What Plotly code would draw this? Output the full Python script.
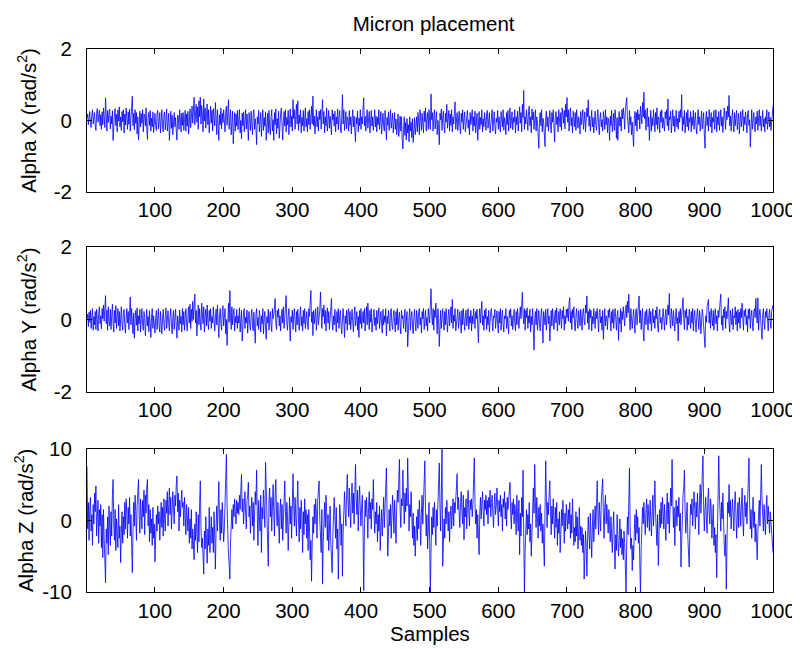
import plotly.graph_objects as go

# ---------------- data ----------------
x_tick_vals = [100, 200, 300, 400, 500, 600, 700, 800, 900, 1000]
xy_tick_vals = [-2, 0, 2]
xy_tick_text = ["-2", "0", "2"]
z_tick_vals = [-10, 0, 10]
z_tick_text = ["-10", "0", "10"]
y_titles = ["Alpha X (rad/s<sup>2</sup>)", "Alpha Y (rad/s<sup>2</sup>)", "Alpha Z (rad/s<sup>2</sup>)"]
x_title = "Samples"
chart_title = "Micron placement"

alpha_x = [
.05,.18,-.12,.12,.25,-.08,-.2,.15,.3,-.1,.02,.22,-.14,-.28,.2,.33,-.05,.18,.28,-.15,
.16,-.25,.24,-.12,.35,.1,-.2,.63,.05,-.3,.28,-.06,.19,.31,-.24,.12,-.1,.27,-.56,.08,
.21,.33,-.15,.17,-.32,.29,-.02,.38,-.18,.1,-.28,.25,-.04,.3,-.35,.18,-.13,.35,.01,-.25,
.24,-.11,.32,-.3,.06,.28,.68,-.15,.2,-.26,.3,-.08,.22,-.38,.1,-.54,.05,.26,-.18,.19,
-.08,.3,-.32,.18,.15,-.16,.35,-.22,-.53,.12,.22,-.14,.28,-.3,.06,-.18,.24,-.34,.1,.2,
-.15,-.28,.18,.28,-.24,.02,.22,-.35,-.02,.3,-.18,-.32,.16,.24,-.26,.1,.32,-.3,-.05,.2,
-.56,.02,.26,-.22,.15,-.4,-.02,.22,-.18,.08,-.3,-.55,.15,.1,-.25,.3,.04,-.32,.2,-.14,
.22,-.28,.02,.28,-.3,.18,-.16,.25,-.38,.1,.32,-.2,.1,.4,-.08,.5,.65,-.12,.3,.45,
-.05,.38,-.25,.55,.1,.65,-.1,.42,.18,-.32,.6,-.02,.35,-.22,.15,.46,-.12,.3,-.35,.12,
.4,-.08,.28,-.3,.33,.08,-.15,.5,.12,-.4,.3,-.1,-.56,.16,-.12,.35,-.24,.2,-.06,.3,
-.1,-.32,.24,.4,-.14,.1,.58,-.25,.05,.3,-.4,.02,.26,-.65,-.12,.22,-.3,.18,-.16,.28,
-.26,.06,.3,-.35,.0,-.52,.2,-.15,.24,-.32,.04,.3,-.24,.18,-.12,-.56,.22,-.1,-.28,.26,
.02,-.4,.18,.3,-.25,.05,-.18,-.68,.1,-.1,.28,-.32,-.04,.22,-.45,.04,.3,-.28,.08,-.16,
.24,-.56,-.1,.2,-.35,.28,-.15,-.4,.08,.3,-.3,.02,-.56,.22,-.12,.32,-.38,.05,-.22,.26,
-.5,.02,.2,.35,-.28,-.55,-.05,.25,-.16,.3,-.32,.08,-.12,.28,-.4,.04,.32,-.18,.12,-.3,
.58,.05,.3,-.25,.1,.45,-.1,.55,-.28,.15,-.08,.3,-.35,.08,-.15,.28,-.3,.1,.35,-.18,
.05,-.32,.25,-.12,.3,-.25,.08,.4,-.1,.68,-.15,.12,-.38,.04,.3,-.18,.1,-.3,.26,.02,
.3,-.24,.08,.58,-.1,.25,-.35,.1,-.15,.35,-.3,.06,.28,-.22,.12,-.12,-.4,.3,.02,.18,
-.16,.26,-.32,.1,-.1,.32,-.26,.08,.28,-.18,-.35,.12,.72,-.1,.3,-.28,.05,.25,-.24,.1,
.02,-.3,.28,-.14,.1,-.38,.04,.3,-.18,.12,-.28,-.6,.08,-.1,.26,-.32,.06,-.15,.3,-.25,
.1,-.1,.35,.63,-.15,.12,-.3,.08,.3,-.22,.04,.25,-.35,-.05,.28,-.16,.1,-.28,.06,.3,
-.18,.12,-.32,.08,-.12,.3,-.25,.05,.25,-.38,-.02,.2,-.16,-.3,.28,.02,-.54,.08,-.14,.24,
-.28,.06,.3,-.22,.02,.2,-.35,-.02,.22,-.25,.04,-.4,-.05,.18,-.45,-.05,.12,-.3,.1,-.5,
-.8,-.25,.1,-.42,-.06,-.55,.05,-.35,-.12,-.6,.1,-.3,-.05,-.48,.05,-.62,-.18,.08,-.4,-.1,
.1,-.32,.22,-.05,-.4,.3,-.02,-.28,.2,-.12,-.35,.26,-.04,.35,-.3,.05,.22,-.25,.3,-.02,
-.25,.74,.02,.22,-.3,.08,.3,-.24,.05,.25,-.4,.0,-.12,-.68,.2,.02,.32,-.28,.06,.26,
-.16,-.35,.2,-.05,.45,-.22,.04,.28,-.3,.18,-.14,.3,-.32,.1,-.1,.35,.52,-.25,.05,.22,
-.28,.02,.26,-.18,-.38,.2,-.05,.3,-.25,.05,.24,-.32,-.08,.18,.28,-.22,.02,-.4,.22,-.12,
.06,.3,-.3,.1,-.16,.26,-.35,.02,.2,-.56,-.05,.25,-.25,.08,-.12,.3,-.32,.05,-.18,.22,
.0,-.28,.18,.28,-.22,.04,.22,-.35,-.08,.2,.3,-.3,.02,.24,-.15,-.38,.06,-.05,.28,-.25,
.1,-.1,-.32,.25,.04,-.18,.3,-.28,.08,-.05,-.4,.22,-.12,.28,-.3,.06,.35,-.22,.02,.24,
-.26,.08,-.05,.3,-.35,.1,-.12,.26,-.3,.04,.38,-.08,.22,-.32,.45,.08,.84,-.25,.1,-.1,
.3,.02,-.28,.25,.4,-.15,.1,-.35,.32,.02,.24,-.25,.08,.3,-.3,.1,-.08,-.5,-.78,.05,
.22,-.15,.3,-.32,.06,-.05,-.4,-.73,.08,.26,-.18,.1,-.3,.04,.28,-.1,-.35,.22,-.05,.3,
-.25,-.6,.08,.25,-.12,.1,-.32,.3,.04,-.18,.22,-.28,.35,.06,-.08,.28,-.24,.45,.1,.64,
-.05,.3,-.3,.1,.35,-.15,.08,-.35,.26,.02,-.18,.22,-.28,.3,.06,-.22,.1,-.05,-.38,.25,
-.12,.08,.3,-.25,.04,.24,-.32,-.05,.35,.1,.58,-.16,.12,-.3,.06,.28,-.18,.08,-.35,.02,
.26,-.14,-.28,.1,.3,-.05,-.4,.05,.22,-.18,.02,-.3,.25,.08,-.25,.3,-.12,.1,-.34,.06,
-.05,-.56,.12,-.15,.28,-.32,.06,.2,-.28,.3,.02,-.5,.08,-.56,-.05,.25,-.16,.1,-.3,.3,
.04,.35,.12,-.25,.3,.45,.64,.1,-.1,-.35,.28,-.12,.1,-.4,-.05,-.55,-.73,.05,.25,-.15,
.22,-.3,.3,.02,.18,-.24,.4,.15,-.1,.5,.1,.79,.05,.3,-.28,.12,.35,-.18,.1,-.56,
.02,.28,-.3,.08,-.15,.3,.05,-.32,.22,-.12,.35,-.25,.1,.02,-.35,.25,-.05,.3,-.22,.08,
-.12,-.3,.24,.05,.3,-.15,.6,-.28,.1,.02,.26,-.35,-.05,.3,-.16,.12,-.32,.08,.28,-.18,
.05,-.25,.25,-.05,.3,.08,.72,-.3,.1,-.12,.28,-.35,.02,.22,-.18,.3,-.28,.06,-.05,.25,
-.32,.1,-.14,.28,-.25,.05,.22,-.18,-.38,.02,.3,-.12,.1,-.3,.06,.26,-.24,-.02,.22,-.4,
-.78,.04,.25,-.15,.1,-.3,.3,.02,-.18,.22,-.35,.08,-.05,.28,-.25,.05,.3,-.32,.1,-.12,
.25,-.28,.06,.3,-.16,.1,-.34,.0,.35,.08,-.25,.26,.02,.4,.1,.7,-.15,.12,-.3,.05,
.3,-.1,-.32,.22,-.15,.08,.28,-.26,.04,.2,-.38,.0,.25,-.18,.06,.3,-.3,.1,-.12,.24,
.0,-.35,.2,.28,-.15,.02,-.75,.08,.3,-.25,.05,.22,-.18,-.32,.1,-.1,.26,-.28,.06,.3,
-.15,.12,-.3,.08,.28,-.18,.05,-.32,.1,-.1,.3,-.25,.04,.24,-.18,.08,-.28,.02,.2,.4,
]

alpha_y = [
.02,.15,-.2,.2,-.08,.25,-.25,.12,.3,-.3,.08,-.15,.22,-.28,.28,.0,-.32,.16,.35,-.12,
.1,-.26,.3,.02,.4,-.05,.5,.66,-.12,.25,-.3,.35,-.05,-.18,.28,-.28,.1,.42,-.1,-.35,
.25,-.1,.38,-.25,.08,.3,-.18,.22,-.32,.05,.35,-.12,-.3,.2,.28,-.15,-.38,.06,.3,-.1,
.22,-.28,.05,.62,-.15,.3,-.08,-.4,.18,-.52,.0,.25,-.16,.32,-.32,.1,-.12,.28,-.35,.04,
.3,-.14,-.3,.22,.05,-.45,.0,.28,-.18,.08,-.34,.24,-.12,-.5,.06,.3,-.25,.1,-.1,-.38,
.02,.25,-.28,.18,.3,-.18,-.35,.22,-.1,-.4,.05,.28,-.15,-.3,.1,.32,-.25,.02,.24,-.12,
-.32,.08,.3,-.15,-.4,.05,.25,-.28,-.02,.28,-.18,-.52,.1,-.08,-.3,.26,-.12,.08,-.35,.3,
-.15,.22,-.3,.05,.3,-.12,-.32,.1,.35,-.1,.42,-.25,.28,-.05,.5,.0,.32,.7,-.1,.25,
-.46,.12,.4,-.15,.3,-.08,-.3,.45,.0,-.12,.35,-.35,.08,.28,-.18,.4,-.08,-.28,.25,-.05,
.3,-.25,.08,-.1,.35,.12,-.32,.05,.28,-.15,.4,-.08,-.5,.1,.3,-.12,-.3,.25,.38,-.18,
.05,.3,-.4,.0,-.72,.15,.45,-.08,.8,.1,-.28,.35,-.15,.12,.3,-.32,.08,-.1,.28,-.25,
.1,-.1,.32,-.35,.04,.25,-.6,-.12,.2,.3,-.25,.06,-.1,.26,-.38,.02,.22,-.16,-.3,.08,
.28,-.14,-.32,.2,-.1,-.66,.12,.3,-.18,.05,-.28,.25,.02,-.35,.1,-.12,.3,-.4,.04,.22,
-.22,-.55,.08,-.1,.28,-.3,.05,.22,-.15,-.34,.3,.02,.1,.4,.58,-.1,-.28,.25,.06,.3,
-.18,.1,-.32,.05,.28,-.1,.35,-.25,.08,.24,.66,-.1,-.3,.1,.3,-.15,-.6,.08,-.08,.26,
-.28,.05,.3,-.1,-.35,.22,-.15,.28,.02,-.3,.1,.35,-.18,.08,-.32,.25,-.12,.3,-.25,.05,
.22,-.1,-.28,.3,.08,.42,.8,-.08,.2,-.45,.25,-.12,.05,.3,-.3,.1,.35,-.15,.08,.26,
.76,-.1,-.25,.3,.08,.4,-.12,.25,-.32,.1,.32,-.1,.22,-.28,.05,.3,.58,-.08,-.3,.1,
-.15,.28,.05,-.35,.22,-.1,.3,-.25,.08,.25,-.18,-.4,.02,.3,-.05,-.5,.1,-.12,.26,-.3,
.18,.3,-.15,.22,-.28,.05,.28,-.1,-.35,.1,.35,-.18,.02,.22,-.3,.08,-.5,.25,-.12,.3,
-.25,.05,.22,-.1,.3,-.32,.1,.35,-.15,.45,.08,-.28,.25,-.08,.3,-.35,-.1,.2,.28,-.18,
.05,-.3,.25,-.12,.1,.32,-.25,.04,.22,-.1,-.38,.28,-.15,.1,-.08,.3,-.46,.08,-.12,.25,
.0,-.32,.2,.3,-.15,-.28,.08,.25,-.1,-.35,.22,-.15,.3,-.3,.05,.2,-.18,-.4,.25,.02,
.1,-.25,.05,.28,-.35,.0,.22,-.76,-.15,.08,.3,-.3,.04,.22,-.18,-.4,.06,.28,-.12,-.32,
.25,-.1,-.25,.2,.3,-.15,.05,-.38,.22,.02,.3,-.28,.08,.26,-.18,.05,-.32,.3,.1,-.1,
.4,.85,.1,-.15,.3,-.3,.25,.05,.45,-.12,-.4,.3,.02,-.75,.08,.25,-.25,.05,.3,-.1,
-.3,.22,-.15,.3,.02,-.35,.1,.28,-.18,.08,.35,-.1,.55,-.25,.12,-.05,.3,-.32,-.02,.2,
.28,-.25,.05,.22,-.1,-.38,.25,-.15,.3,.02,-.3,.1,.26,-.18,.05,.3,-.28,.08,-.1,.25,
-.32,.1,-.12,.3,.05,-.25,.22,.02,.28,-.4,-.65,.05,.3,-.1,.4,.5,-.15,.1,-.3,.26,
.02,.3,-.28,.08,-.15,.25,-.35,.0,.22,.3,-.18,-.32,.1,.05,.28,-.25,.02,.24,-.12,-.38,
.22,-.1,.3,-.3,.05,.26,-.15,-.35,.1,.02,.3,-.25,.08,-.1,-.4,.25,.05,.3,-.18,.1,
-.28,.05,.28,-.1,-.32,.22,-.15,.3,.08,-.25,.1,.35,.02,.4,.75,.1,-.12,.3,-.3,.25,
.05,.32,-.25,.1,-.1,.28,-.35,.08,-.15,.3,-.5,-.85,.02,.22,-.15,.3,-.3,.08,.25,-.12,
-.32,.1,.3,-.1,-.65,.22,.05,-.15,.28,-.3,.08,.3,-.12,.1,-.6,.05,.25,-.18,.3,.02,
-.28,.1,.26,-.1,.32,-.32,.05,.22,-.15,.3,.08,-.25,.25,.02,.35,-.3,.1,-.12,.28,.05,
.3,-.05,.45,.6,-.1,.22,-.28,.28,.05,.35,-.15,-.32,.1,.3,-.1,-.25,.25,.08,-.18,.28,
.02,-.3,.2,.3,-.05,-.15,.4,.18,.65,-.1,.22,-.28,.3,.05,.25,-.32,.08,-.12,.3,.1,
-.25,.22,.02,.3,-.15,-.35,.2,.28,-.1,.08,-.3,.25,-.55,.05,.3,-.18,.1,.02,-.28,.26,
.05,.3,-.15,-.32,.22,-.1,.28,-.25,.08,.3,.02,-.3,.1,.25,-.58,.05,-.12,.3,-.35,.22,
.0,.35,.08,-.18,.25,.4,.05,.5,.18,.7,.02,-.3,.3,.1,-.25,.05,.28,-.1,-.38,.22,
.3,-.15,.1,.45,.65,-.1,.25,-.28,.08,.3,-.35,-.6,.02,.22,-.15,.28,.05,-.3,.1,.3,
-.12,.22,-.32,.05,.3,-.1,.1,-.25,.26,.02,.35,-.18,-.35,.1,.28,-.1,.05,-.28,.25,.3,
.02,-.3,.1,.28,-.15,.05,.4,.12,.72,-.1,-.25,.3,.08,-.18,.25,.02,-.32,.1,.3,-.12,
.05,-.6,.22,-.1,.3,-.15,.1,.35,.6,.02,-.28,.25,.05,.3,-.3,.08,-.15,.28,.1,-.25,
.22,-.1,.3,-.32,.08,.25,-.15,-.35,.1,.3,.02,-.28,.25,.05,-.4,-.1,.28,.1,-.15,-.3,
-.78,.1,-.08,.35,.45,.55,-.1,.22,-.25,.3,.05,-.18,.25,-.3,.08,.3,-.12,.1,-.32,.25,
.05,.3,.4,.7,-.15,.1,-.3,.28,.05,.35,-.25,.22,.02,.3,.6,-.1,-.35,.25,.08,-.15,
.3,-.28,.1,.05,.35,-.15,.22,-.32,.28,-.1,.2,-.25,.3,.05,.45,.02,-.3,.25,.08,.3,
-.15,.1,-.35,.28,.02,.3,-.25,.08,.25,-.1,-.32,.22,.3,.05,.58,.1,-.1,.6,-.3,.1,
.28,.02,-.25,-.55,.1,.3,-.1,-.28,.22,.05,.3,-.15,-.32,.1,.28,-.05,-.25,.22,.3,.4,
]

alpha_z = [
7.5,-1.2,2.5,-2.8,1.8,3.2,-1.5,0.8,-3.5,2.2,-0.5,3.8,1.2,4.8,-2.2,0.5,2.8,-3.2,1.5,-0.8,
2.2,-3.8,0.8,-5.2,1.5,-2.5,-4.5,-8.7,-1.2,-3.2,0.5,-4.8,2.0,-1.8,-3.5,1.2,-2.2,3.5,5.7,-0.5,
-2.8,1.5,-4.2,0.2,-1.5,-3.8,2.2,-2.5,-0.8,-5.9,-1.8,1.2,-3.2,0.5,-2.0,2.5,-1.2,3.0,0.8,-2.5,
1.8,-0.5,3.2,-2.2,0.8,-3.5,-7.3,-1.5,2.5,-0.8,3.5,1.2,-2.8,2.0,4.2,5.7,0.5,-1.8,3.0,1.5,
-1.2,2.8,0.5,4.2,-2.0,3.5,1.0,4.5,5.7,-0.8,2.2,-3.0,1.5,-1.8,0.2,-3.5,1.8,-2.5,-0.5,-5.8,
-2.2,0.8,-1.5,2.0,-0.5,1.2,-2.8,0.5,2.5,-1.0,1.8,-2.2,3.0,0.2,-1.5,2.8,1.0,4.0,-0.8,2.2,
4.5,0.8,3.2,-1.2,2.5,4.0,1.5,-0.5,3.5,2.0,5.0,6.2,1.2,3.8,-1.5,2.8,0.5,3.5,4.2,1.8,
2.5,-0.8,3.2,1.0,-2.0,2.2,0.5,-1.5,1.8,-3.2,0.2,-2.5,1.5,-4.0,-1.2,-3.0,-5.5,-0.5,-2.8,1.2,
-2.2,-4.5,0.8,-3.0,2.5,5.5,-1.0,-3.8,-2.5,-5.2,-7.5,-1.5,-4.0,0.5,-2.8,-6.0,-1.2,-3.5,1.8,-4.5,
-2.0,0.5,-3.2,-1.0,-4.5,1.2,-2.5,-6.8,-0.8,2.0,-1.5,3.2,5.4,-0.5,-2.8,1.5,-1.8,2.5,0.2,-3.0,
-1.2,1.8,4.5,9.2,2.0,-2.5,-4.8,-6.0,-8.2,-3.2,-0.8,1.5,-1.2,2.2,0.5,3.0,1.2,-0.5,2.8,1.0,
2.5,0.8,3.5,1.5,4.2,6.4,1.2,3.0,-0.5,2.2,4.0,1.0,-1.2,2.8,3.5,5.3,0.5,2.0,-1.8,1.5,
3.2,-0.8,2.5,-2.8,1.5,4.0,2.2,7.0,0.5,-3.5,2.8,1.2,-1.5,3.5,-4.5,1.8,0.2,4.2,2.5,-1.0,
8.1,3.5,1.2,-2.5,-6.4,2.8,4.5,0.5,3.2,-1.5,2.0,5.0,1.2,-2.2,3.8,5.7,1.0,-0.8,2.5,0.2,
-3.2,1.5,3.0,-1.2,2.2,-2.8,0.8,3.5,5.5,1.2,-1.8,2.5,0.5,-4.2,1.8,3.2,-0.5,2.0,-2.5,1.0,
6.5,2.0,-0.8,3.2,1.0,-2.2,2.5,5.5,0.2,-3.0,1.8,-1.2,2.8,0.5,-4.5,1.2,-2.0,3.0,-0.5,1.5,
-2.5,0.8,-4.2,1.5,-1.0,-5.5,-2.8,-8.5,-3.0,0.5,-1.8,2.2,-0.5,3.0,1.0,-2.5,2.8,4.0,5.5,0.2,
-2.0,-4.5,1.5,-8.9,-3.2,0.5,2.5,-1.0,3.5,1.2,-2.8,0.8,-4.2,-1.5,2.0,-3.0,-5.5,-7.3,-2.2,1.0,
3.2,0.5,-2.5,1.8,-4.0,-1.2,-8.2,-2.8,2.2,0.8,-3.5,-0.5,-7.8,-1.8,2.5,4.0,1.2,-0.8,3.5,6.4,
2.8,0.5,4.5,1.8,-1.0,3.2,5.2,1.0,3.8,-0.5,2.5,7.8,3.0,0.8,4.2,-1.5,2.2,4.8,1.5,-0.8,
2.0,3.5,-2.0,-9.8,-1.5,2.8,0.5,3.2,1.0,-2.5,1.8,4.0,0.2,2.5,-1.2,3.0,1.5,5.7,0.8,-1.8,
1.2,-0.5,2.5,-3.0,0.8,-1.5,2.0,-4.2,-0.8,1.5,-2.2,0.5,3.2,-1.0,2.2,4.5,7.3,1.0,-5.0,-2.0,
1.5,-0.8,2.2,-2.5,0.5,3.5,1.2,-1.8,2.8,0.2,-3.2,1.8,4.2,2.5,5.5,8.5,1.5,-1.0,3.0,2.0,
7.0,2.5,-0.5,3.8,1.2,4.5,2.0,8.7,3.0,-1.5,2.2,0.5,4.0,1.8,-2.5,1.0,-3.5,-0.8,-5.0,-2.0,
0.5,-2.8,1.5,-1.2,2.8,0.2,-3.5,1.0,3.5,-0.5,2.0,5.0,8.3,1.2,-2.2,0.8,-4.0,-1.5,2.5,-3.0,
-10.5,-4.5,0.5,-2.0,1.8,-1.0,2.5,-0.5,-3.5,1.5,-0.8,2.2,4.5,8.0,2.0,-1.5,3.5,10.5,-6.4,-1.8,
0.2,-2.5,1.8,-0.5,2.8,0.8,-1.5,1.2,-3.0,0.5,2.0,-1.2,1.5,3.0,-0.8,2.5,1.0,3.8,4.5,6.5,
1.5,3.2,0.8,-1.0,2.5,4.0,1.2,-0.5,3.5,-2.7,1.8,0.5,3.0,-1.2,2.2,4.2,1.0,-0.8,2.8,1.5,
3.0,0.5,2.2,4.8,8.7,2.5,-0.5,1.5,-2.5,0.8,-1.5,-4.8,1.0,3.2,0.2,2.5,4.0,1.2,-0.8,2.8,
1.5,3.5,0.8,2.8,-0.5,3.2,1.8,4.2,0.5,2.5,3.5,1.0,-1.0,2.2,3.8,0.8,2.0,4.5,1.5,-0.8,
2.8,1.2,3.5,0.5,2.2,-1.5,3.0,1.8,4.0,0.2,2.5,-0.8,3.2,1.5,2.8,4.2,5.3,1.0,-1.2,2.5,
0.8,3.0,-0.5,2.2,1.2,-2.0,3.5,0.5,-1.5,2.8,-4.8,1.0,-2.2,3.2,0.5,7.0,-3.0,-10.5,-4.5,-1.0,
1.5,-2.0,0.8,-1.2,2.5,-3.0,-0.5,-5.0,-1.5,2.0,4.5,1.0,7.8,2.5,-1.0,3.2,0.5,-2.5,1.8,-0.8,
2.2,-1.5,1.0,-3.2,-0.5,-4.5,-6.4,1.5,8.3,3.0,-1.0,2.5,0.8,3.8,5.5,1.2,-2.0,2.0,-0.5,3.0,
0.5,-2.5,1.8,-1.0,2.5,-3.5,0.2,-1.8,1.2,-4.5,-2.0,1.5,-0.8,2.8,0.5,-3.2,1.0,-1.5,2.2,0.8,
-1.2,1.5,-0.5,2.5,-2.5,0.8,-1.8,3.0,0.2,-3.5,-1.0,-3.0,1.2,-2.2,0.5,-4.0,-1.5,1.8,-2.8,-0.8,
-3.5,-1.0,-4.5,-2.0,-8.2,-5.0,-1.5,-3.8,-7.8,-2.5,0.5,-1.8,-4.0,1.0,-2.2,-5.2,-0.8,1.5,-3.0,0.5,
2.0,-1.2,3.5,5.5,1.0,-2.0,2.5,0.5,-1.5,3.0,4.2,5.8,0.8,-2.5,1.8,3.5,-0.5,2.2,0.2,-1.8,
1.5,-0.8,-3.0,0.5,-2.2,-4.5,-1.0,1.2,-3.5,-6.8,-2.0,-4.2,0.8,-1.5,-5.0,-2.8,0.2,-3.8,-1.2,-4.8,
-2.5,-5.5,-1.5,-3.2,-6.5,-10.0,-3.0,0.5,-2.0,3.5,7.3,-1.0,-4.0,-2.5,-7.0,-3.5,-5.5,-1.5,0.8,-2.8,
1.5,-1.8,0.5,-3.2,-1.0,-5.5,-10.5,-4.0,-1.2,1.8,-0.5,2.5,0.2,-2.0,1.5,3.0,-1.0,2.2,0.5,-1.5,
2.8,0.5,-2.2,1.2,3.5,-0.8,2.0,5.5,1.0,-1.5,-3.5,0.8,-6.3,-2.0,1.5,-1.0,2.5,-0.5,3.2,1.2,
-1.2,2.2,0.5,-2.8,1.5,3.8,-0.5,2.5,-1.8,1.0,4.5,2.0,8.5,3.0,-1.0,1.8,-3.5,0.5,2.8,-0.8,
2.0,0.5,3.2,-1.5,1.0,-6.5,-2.0,1.5,3.5,4.5,7.0,1.2,-1.8,0.8,2.5,-2.5,-4.0,-6.5,-1.0,2.2,
0.8,3.0,-0.8,2.2,4.0,1.5,-1.2,2.5,0.5,3.8,1.2,-2.0,2.8,5.0,1.0,3.5,6.5,9.0,2.0,-1.5,
1.5,3.2,0.2,-1.8,2.5,4.5,1.0,-0.5,3.0,1.8,-2.5,0.5,2.2,-3.5,-1.0,-4.5,-2.0,-8.0,-3.0,0.8,
9.0,3.5,1.0,-1.5,2.5,0.2,3.8,-1.0,-3.5,-5.0,-2.0,-9.6,-1.5,2.5,1.0,5.0,0.5,2.8,-1.2,1.5,
3.0,0.8,-1.5,2.2,4.0,1.0,-2.5,0.5,2.5,-1.0,3.2,1.5,-0.8,2.0,4.5,0.2,-2.2,1.8,3.5,0.5,
2.5,-0.5,3.0,5.0,8.7,2.2,-1.2,1.5,-2.5,0.8,3.2,-1.0,1.2,-3.0,-0.5,-2.5,-5.5,-1.5,1.0,2.8,
-0.8,2.5,7.8,3.0,0.5,-1.5,2.2,0.8,-2.0,1.5,3.5,-0.5,2.0,0.2,-1.8,1.2,-0.5,-2.5,-3.2,-4.5,
]

series = [alpha_x, alpha_y, alpha_z]
y_ranges = [[-2, 2], [-2, 2], [-10, 10]]
y_ticks = [xy_tick_vals, xy_tick_vals, z_tick_vals]
y_texts = [xy_tick_text, xy_tick_text, z_tick_text]
title_standoffs = [11, 11, 3]

# ---------------- figure ----------------
FONT = "Liberation Sans, Arial, Helvetica, sans-serif"
FS = 20.5
fig = go.Figure()

domains = [[0.737, 1.0], [0.369, 0.635], [0.0, 0.264]]

for i, vals in enumerate(series):
    n = i + 1
    xs = list(range(1, len(vals) + 1))
    fig.add_trace(go.Scatter(
        x=xs, y=vals, mode="lines",
        line=dict(color="#0000ff", width=0.8),
        xaxis="x" if n == 1 else f"x{n}",
        yaxis="y" if n == 1 else f"y{n}",
        showlegend=False, hoverinfo="skip",
    ))
    xkey = "xaxis" if n == 1 else f"xaxis{n}"
    ykey = "yaxis" if n == 1 else f"yaxis{n}"
    xdict = dict(
        domain=[0, 1], anchor="y" if n == 1 else f"y{n}",
        range=[1, 1000], tickvals=x_tick_vals,
        ticks="inside", ticklen=5, tickwidth=1, tickcolor="black",
        showline=True, linecolor="black", linewidth=1, mirror="ticks",
        showgrid=False, zeroline=False,
        tickfont=dict(family=FONT, size=FS, color="black"),
    )
    if n == 3:
        xdict["title"] = dict(text=x_title, font=dict(family=FONT, size=FS, color="black"), standoff=0)
    fig.layout[xkey] = xdict
    fig.layout[ykey] = dict(
        domain=domains[i], anchor="x" if n == 1 else f"x{n}",
        range=y_ranges[i], tickvals=y_ticks[i], ticktext=y_texts[i],
        ticks="inside", ticklen=5, tickwidth=1, tickcolor="black",
        showline=True, linecolor="black", linewidth=1, mirror="ticks",
        showgrid=False, zeroline=False,
        tickfont=dict(family=FONT, size=FS, color="black"),
        ticklabelstandoff=10,
        title=dict(text=y_titles[i], font=dict(family=FONT, size=FS, color="black"), standoff=title_standoffs[i]),
    )

fig.update_layout(
    width=800, height=649,
    margin=dict(l=79, r=28, t=41, b=65),
    paper_bgcolor="white", plot_bgcolor="white",
    title=dict(text=chart_title, x=0.532, xanchor="center", y=0.975, yanchor="middle",
               font=dict(family=FONT, size=FS, color="black")),
    showlegend=False,
)

fig.write_html("out.html")
